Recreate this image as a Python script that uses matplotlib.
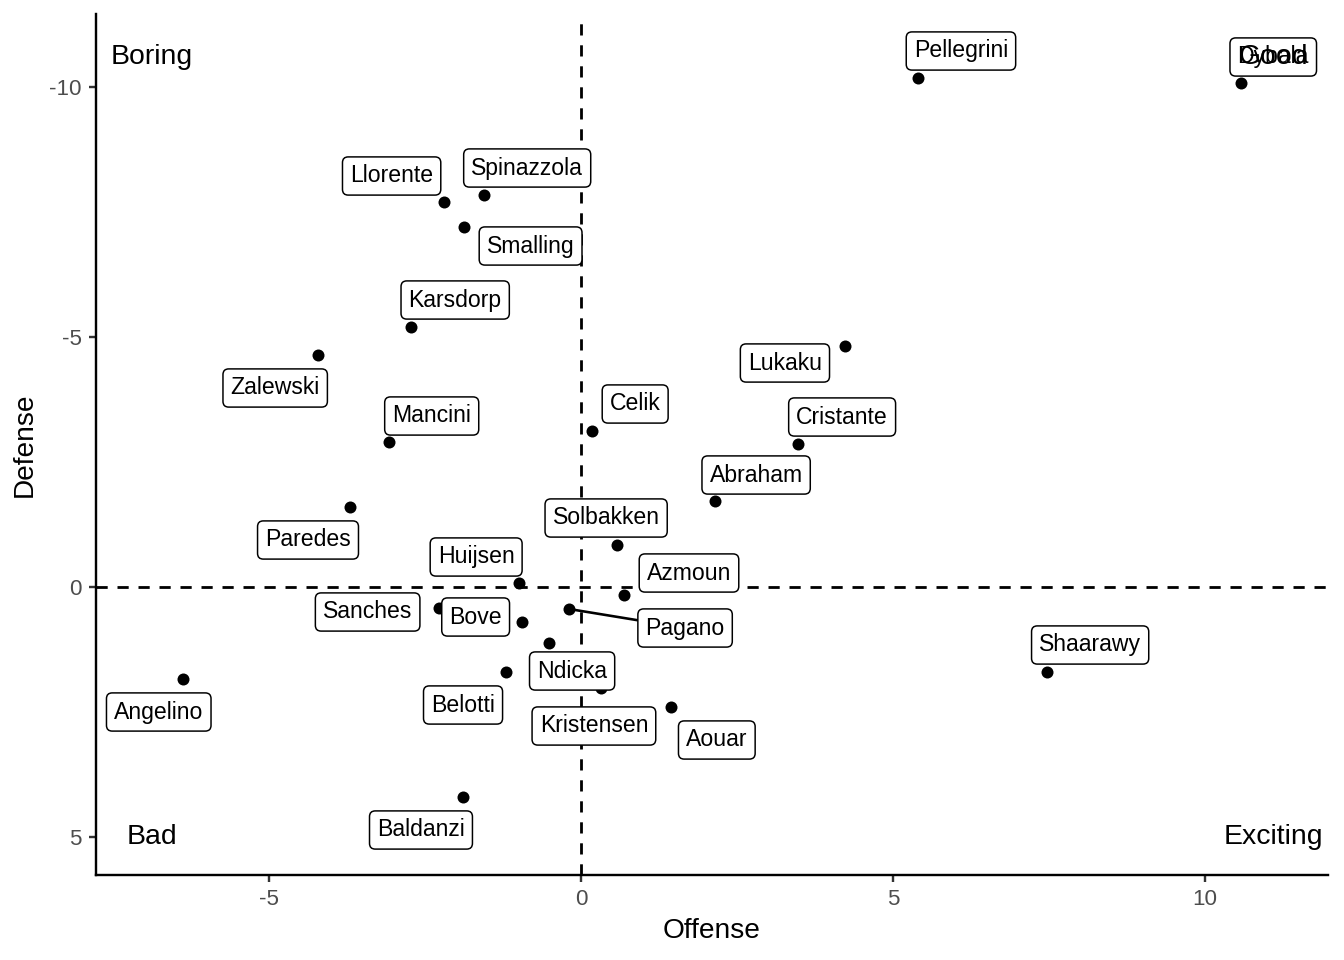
import matplotlib.pyplot as plt

plt.rcParams['font.family'] = ['Liberation Sans', 'DejaVu Sans']

# datos
players = ['Pellegrini', 'Dybala', 'Llorente', 'Spinazzola', 'Smalling', 'Karsdorp',
           'Zalewski', 'Lukaku', 'Mancini', 'Celik', 'Cristante', 'Abraham', 'Paredes',
           'Solbakken', 'Huijsen', 'Azmoun', 'Sanches', 'Bove', 'Pagano', 'Ndicka',
           'Belotti', 'Kristensen', 'Aouar', 'Shaarawy', 'Angelino', 'Baldanzi']
offense = [5.40, 10.58, -2.20, -1.55, -1.88, -2.72, -4.21, 4.23, -3.08, 0.18, 3.48, 2.15,
           -3.70, 0.58, -0.99, 0.69, -2.28, -0.95, -0.19, -0.51, -1.20, 0.32, 1.44, 7.47,
           -6.38, -1.89]
defense = [-10.18, -10.08, -7.70, -7.84, -7.20, -5.20, -4.64, -4.82, -2.90, -3.12, -2.86,
           -1.72, -1.60, -0.84, -0.08, 0.16, 0.42, 0.70, 0.44, 1.12, 1.70, 2.02, 2.40, 1.70,
           1.84, 4.20]

quadrants = ['Boring', 'Good', 'Bad', 'Exciting']
quad_x = [-6.875, 11.09, -6.875, 11.09]
quad_y = [-10.6, -10.6, 5.0, 5.0]

x_ticks = [-5, 0, 5, 10]
y_ticks = [-10, -5, 0, 5]

# desplazamiento de cada etiqueta (pixeles), como lo dejo ggrepel
label_offsets = [(43, 29), (32, 28), (-52, 28), (43, 29), (67, -17), (44, 29),
                 (-43, -31), (-60, -15), (43, 28), (43, 29), (44, 29), (41, 28),
                 (-42, -31), (-11, 29), (-43, 28), (65, 24), (-71, -2), (-46, 7),
                 (116, -17), (23, -26), (-43, -31), (-7, -36), (46, -31), (43, 29),
                 (-24, -31), (-42, -31)]


def generate_quadrant_chart():
    fig = plt.figure(figsize=(1344 / 144, 960 / 144), dpi=144)
    ax = fig.add_axes([96 / 1344, 85 / 960, 1232 / 1344, 861 / 960])

    ax.axhline(0, color='black', lw=1.4, ls=(0, (4, 3.5)), zorder=1)
    ax.axvline(0, color='black', lw=1.4, ls=(0, (4, 3.5)), zorder=1)

    ax.scatter(offense, defense, s=36, color='black', zorder=3, linewidths=0)

    for name, x, y, off in zip(players, offense, defense, label_offsets):
        arrow = None
        if name == 'Pagano':
            arrow = dict(arrowstyle='-', color='black', lw=1.3, shrinkA=0, shrinkB=3)
        ax.annotate(name, (x, y), xytext=(off[0], off[1] - 2), textcoords='offset pixels',
                    ha='center', va='center', fontsize=11.5, zorder=4,
                    bbox=dict(boxstyle='round,pad=0.33,rounding_size=0.25', fc='white',
                              ec='black', lw=0.75),
                    arrowprops=arrow)

    for q, x, y in zip(quadrants, quad_x, quad_y):
        ax.text(x, y, q, ha='center', va='center', fontsize=14.2, zorder=5)

    ax.set_xlim(-7.77, 11.97)
    ax.set_ylim(5.76, -11.46)
    ax.set_xticks(x_ticks)
    ax.set_yticks(y_ticks)
    ax.set_xticklabels([str(t) for t in x_ticks])
    ax.set_yticklabels([str(t) for t in y_ticks])

    for side in ['top', 'right']:
        ax.spines[side].set_visible(False)
    for side in ['left', 'bottom']:
        ax.spines[side].set_linewidth(1.2)
    ax.tick_params(length=3.6, width=1.2, color='#333333', labelsize=11.2,
                   labelcolor='#4D4D4D', pad=3.5)

    ax.set_xlabel('Offense', fontsize=14, labelpad=4)
    ax.set_ylabel('Defense', fontsize=14, labelpad=6)

    plt.savefig('out.png', dpi=144)
    plt.close()


if __name__ == '__main__':
    generate_quadrant_chart()
